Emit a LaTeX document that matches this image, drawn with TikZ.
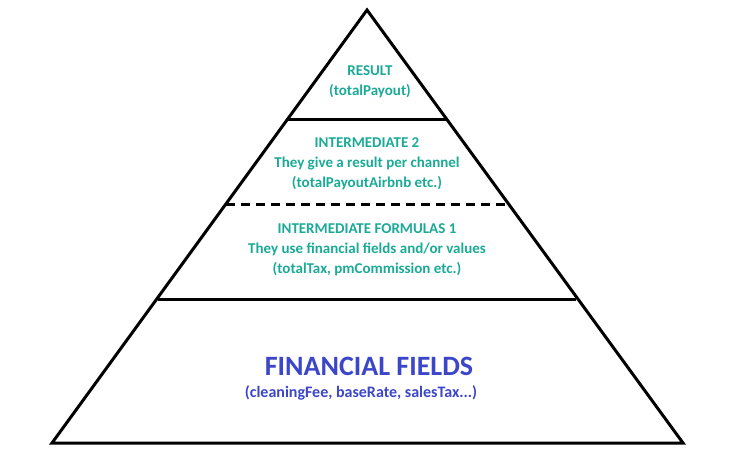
\documentclass[tikz,border=0pt]{standalone}
\usepackage{fontspec}
\setmainfont{Carlito}
\definecolor{teal1}{RGB}{26,170,150}
\definecolor{blue1}{RGB}{60,70,200}
\begin{document}
\begin{tikzpicture}[x=1pt,y=-1pt,
  lvl/.style={font=\bfseries\fontsize{15}{20}\selectfont,text=teal1,align=center},
  edge/.style={line width=3pt}]
\useasboundingbox (0,0) rectangle (730,470);
\coordinate (A) at (367,10);
\coordinate (L) at (52,443);
\coordinate (R) at (683,443);
\draw[edge,line join=miter] (A) -- (L) -- (R) -- cycle;
\draw[edge] (287,120) -- (447,120);
\draw[edge,dash pattern=on 9pt off 6pt] (226,205) -- (508,205);
\draw[edge] (158,299) -- (576,299);
\node[lvl] (r) at (370,82) {RESULT\\(totalPayout)};
\node[lvl] (i2) at (367,164) {INTERMEDIATE 2\\They give a result per channel\\(totalPayoutAirbnb etc.)};
\node[lvl] (i1) at (367,250) {INTERMEDIATE FORMULAS 1\\They use financial fields and/or values\\(totalTax, pmCommission etc.)};
\node[font=\bfseries\fontsize{28}{30}\selectfont,text=blue1] (ff) at (369,366) {FINANCIAL FIELDS};
\node[font=\bfseries\fontsize{16}{18}\selectfont,text=blue1] (ff2) at (361,393) {(cleaningFee, baseRate, salesTax...)};
\end{tikzpicture}
\end{document}
